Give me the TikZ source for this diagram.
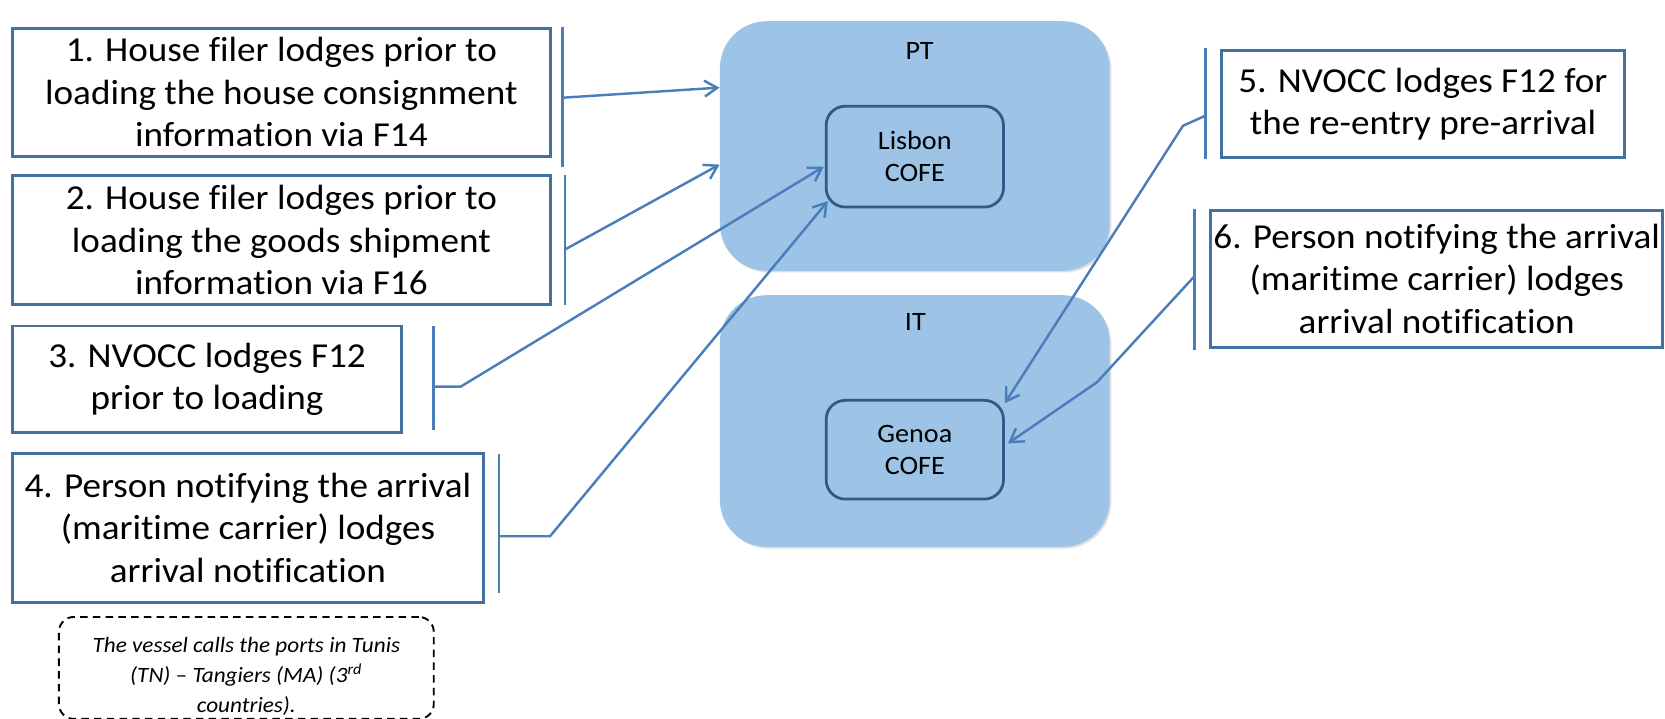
\documentclass[tikz,border=0pt]{standalone}
\usepackage{fontspec}
\setmainfont{Carlito}[FakeStretch=1.06,Ligatures=NoCommon]
\usetikzlibrary{arrows.meta,shadows}
\definecolor{bord}{HTML}{41719C}
\definecolor{conn}{HTML}{4A7EBB}
\definecolor{cfill}{HTML}{9DC3E6}
\definecolor{inb}{HTML}{2F5B88}
\begin{document}
\begin{tikzpicture}[x=0.5pt,y=-0.5pt,
  txtbox/.style={draw=bord, line width=1.4pt, fill=white, align=center, inner sep=0pt,
    font=\fontsize{16.5}{20}\selectfont},
  notebox/.style={draw=black, line width=0.9pt, dash pattern=on 3.5pt off 2.5pt,
    rounded corners=7pt, inner sep=0pt},
  notetext/.style={align=center, inner sep=0pt, font=\fontsize{10.3}{14}\selectfont\itshape},
  country/.style={fill=cfill, rounded corners=22pt, inner sep=0pt,
    drop shadow={opacity=0.25, shadow xshift=0.8pt, shadow yshift=-0.8pt}},
  cofe/.style={draw=inb, line width=1.3pt, fill=cfill, rounded corners=9pt, align=center,
    inner sep=0pt, font=\fontsize{12.5}{15}\selectfont},
  lbl/.style={font=\fontsize{12.5}{15}\selectfont, inner sep=0pt},
  brk/.style={draw=conn, line width=1.25pt},
  conline/.style={draw=conn, line width=1.15pt, -{Straight Barb[length=6pt,width=7.5pt]}},
  ]
\useasboundingbox (0,0) rectangle (1568,677);

% left callout boxes
\node[txtbox, minimum width=253pt, minimum height=60pt] (b1) at (265,87)
  {1. House filer lodges prior to\\loading the house consignment\\information via F14};
\node[txtbox, minimum width=253pt, minimum height=61pt] (b2) at (265,226)
  {2. House filer lodges prior to\\loading the goods shipment\\information via F16};
\node[txtbox, minimum width=183pt, minimum height=50pt] (b3) at (195,357)
  {3. NVOCC lodges F12\\prior to loading};
\node[txtbox, minimum width=221.5pt, minimum height=70pt] (b4) at (233.5,497)
  {4. Person notifying the arrival\\(maritime carrier) lodges\\arrival notification};
\node[notebox, minimum width=176.5pt, minimum height=48pt] (note) at (232,629) {};
\node[notetext] (notet) at (232,637)
  {The vessel calls the ports in Tunis\\(TN) – Tangiers (MA) (3\textsuperscript{rd}\\countries).};

% countries
\node[country, minimum width=183.5pt, minimum height=117.5pt] (pt) at (861.5,137.5) {};
\node[lbl] (ptl) at (866,48) {PT};
\node[cofe, minimum width=83.5pt, minimum height=47.5pt] (lis) at (861.5,147.5) {Lisbon\\COFE};
\node[country, minimum width=183.5pt, minimum height=118.5pt] (it) at (861.5,396.5) {};
\node[lbl] (itl) at (862,303) {IT};
\node[cofe, minimum width=83.5pt, minimum height=46.5pt] (gen) at (861.5,423.5) {Genoa\\COFE};

% right callout boxes
\node[txtbox, minimum width=190pt, minimum height=50pt] (b5) at (1340,98)
  {5. NVOCC lodges F12 for\\the re-entry pre-arrival};
\node[txtbox, minimum width=213pt, minimum height=64.5pt] (b6) at (1353,262.5)
  {6. Person notifying the arrival\\(maritime carrier) lodges\\arrival notification};

% bracket coordinates
\coordinate (k1t) at (530,25);  \coordinate (k1b) at (530,157); \coordinate (k1m) at (530,92);
\coordinate (k2t) at (532,165); \coordinate (k2b) at (532,287); \coordinate (k2m) at (532,235);
\coordinate (k3t) at (408,307); \coordinate (k3b) at (408,405); \coordinate (k3m) at (408,364);
\coordinate (k3s) at (434,364);
\coordinate (k4t) at (470,428); \coordinate (k4b) at (470,558); \coordinate (k4m) at (470,505);
\coordinate (k4s) at (518,505);
\coordinate (k5t) at (1135,45); \coordinate (k5b) at (1135,150); \coordinate (k5m) at (1135,109);
\coordinate (k5s) at (1114,118.5);
\coordinate (k6t) at (1125,197); \coordinate (k6b) at (1125,330); \coordinate (k6m) at (1125,260);
\coordinate (k6s) at (1033,360);

\draw[brk] (k1t) -- (k1b);
\draw[brk] (k2t) -- (k2b);
\draw[brk] (k3t) -- (k3b);
\draw[brk] (k4t) -- (k4b);
\draw[brk] (k5t) -- (k5b);
\draw[brk] (k6t) -- (k6b);

% connectors
\draw[conline] (k1m) -- ([yshift=27.5pt]pt.west);
\draw[conline] (k2m) -- ([yshift=-8.75pt]pt.west);
\draw[conline] (k3m) -- (k3s) -- ([xshift=-0.5pt,yshift=-4.75pt]lis.west);
\draw[conline] (k4m) -- (k4s) -- ([xshift=1.5pt,yshift=3.5pt]lis.south west);
\draw[conline] (k5m) -- (k5s) -- ([yshift=-2pt]gen.north east);
\draw[conline] (k6m) -- (k6s) -- ([xshift=1.5pt,yshift=3pt]gen.east);
\end{tikzpicture}
\end{document}
